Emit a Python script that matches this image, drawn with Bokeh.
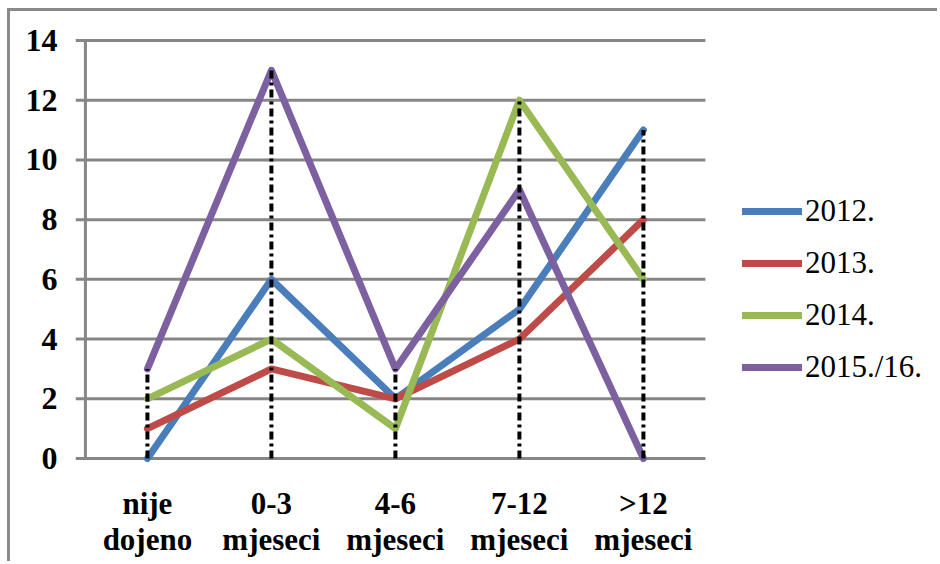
from bokeh.plotting import figure
from bokeh.models import FixedTicker, Legend, LegendItem
from bokeh.embed import file_html
from bokeh.resources import INLINE

categories = ["nije\ndojeno", "0-3\nmjeseci", "4-6\nmjeseci", "7-12\nmjeseci", ">12\nmjeseci"]
s2012 = [0, 6, 2, 5, 11]
s2013 = [1, 3, 2, 4, 8]
s2014 = [2, 4, 1, 12, 6]
s2015 = [3, 13, 3, 9, 0]
series_names = ["2012.", "2013.", "2014.", "2015./16."]
series_colors = ["#4A7EBB", "#BE4B48", "#98B954", "#7D60A0"]
y_ticks = [0, 2, 4, 6, 8, 10, 12, 14]

xs = list(range(len(categories)))
all_series = [s2012, s2013, s2014, s2015]

W, H = 930, 553
left_b, top_b, bottom_b = 65, 23, 100
px_per_cat = 124.0
x_start = -0.58
x_end = x_start + (W - left_b) / px_per_cat
grid_x_end = len(categories) - 0.5

p = figure(width=W, height=H, output_backend="svg", toolbar_location=None,
           x_range=(x_start, x_end), y_range=(-0.2, 14.2),
           min_border_left=left_b, min_border_right=0, min_border_top=top_b,
           min_border_bottom=bottom_b)
p.background_fill_color = "white"
p.border_fill_color = "white"
p.outline_line_color = None
p.styles = {"margin-left": "7px", "margin-top": "8px",
            "border-left": "3px solid #898989", "border-top": "3px solid #898989"}

# axes
p.xaxis.ticker = FixedTicker(ticks=xs)
p.xaxis.major_label_overrides = {i: c for i, c in enumerate(categories)}
p.yaxis.ticker = FixedTicker(ticks=y_ticks)
for ax in (p.xaxis, p.yaxis):
    ax.axis_line_color = None
    ax.major_tick_line_color = None
    ax.minor_tick_line_color = None
    ax.major_tick_out = 0
    ax.major_tick_in = 0
    ax.major_label_text_font = "Liberation Serif"
    ax.major_label_text_font_style = "bold"
    ax.major_label_text_color = "black"
p.xaxis.major_label_text_font_size = "31px"
p.xaxis.major_label_text_line_height = 1.04
p.xaxis.major_label_standoff = 21
p.yaxis.major_label_text_font_size = "32px"
p.yaxis.major_label_standoff = 18

p.xgrid.grid_line_color = None
p.ygrid.grid_line_color = None

# horizontal gridlines (stop at the last category boundary)
p.segment(x0=[x_start] * len(y_ticks), y0=y_ticks, x1=[grid_x_end] * len(y_ticks), y1=y_ticks,
          line_color="#868686", line_width=3)
# vertical value axis line
p.segment(x0=[-0.5], y0=[y_ticks[0]], x1=[-0.5], y1=[y_ticks[-1]],
          line_color="#868686", line_width=3)

renderers = []
for s, c in zip(all_series, series_colors):
    r = p.line(xs, s, line_color=c, line_width=7, line_cap="round", line_join="round")
    renderers.append(r)

# drop lines
tops = [max(v) for v in zip(*all_series)]
p.segment(x0=xs, y0=[0] * len(xs), x1=xs, y1=tops, line_color="black",
          line_width=4, line_dash="8 4 3 4")

legend = Legend(items=[LegendItem(label=n, renderers=[r]) for n, r in zip(series_names, renderers)],
                location=(667, 77))
legend.label_text_font = "Liberation Serif"
legend.label_text_font_size = "31px"
legend.label_text_color = "black"
legend.glyph_width = 60
legend.glyph_height = 40
legend.spacing = 12
legend.label_standoff = 3
legend.padding = 0
legend.margin = 0
legend.border_line_color = None
legend.background_fill_alpha = 0
p.add_layout(legend, "center")

open("out.html", "w").write(file_html(p, INLINE))
